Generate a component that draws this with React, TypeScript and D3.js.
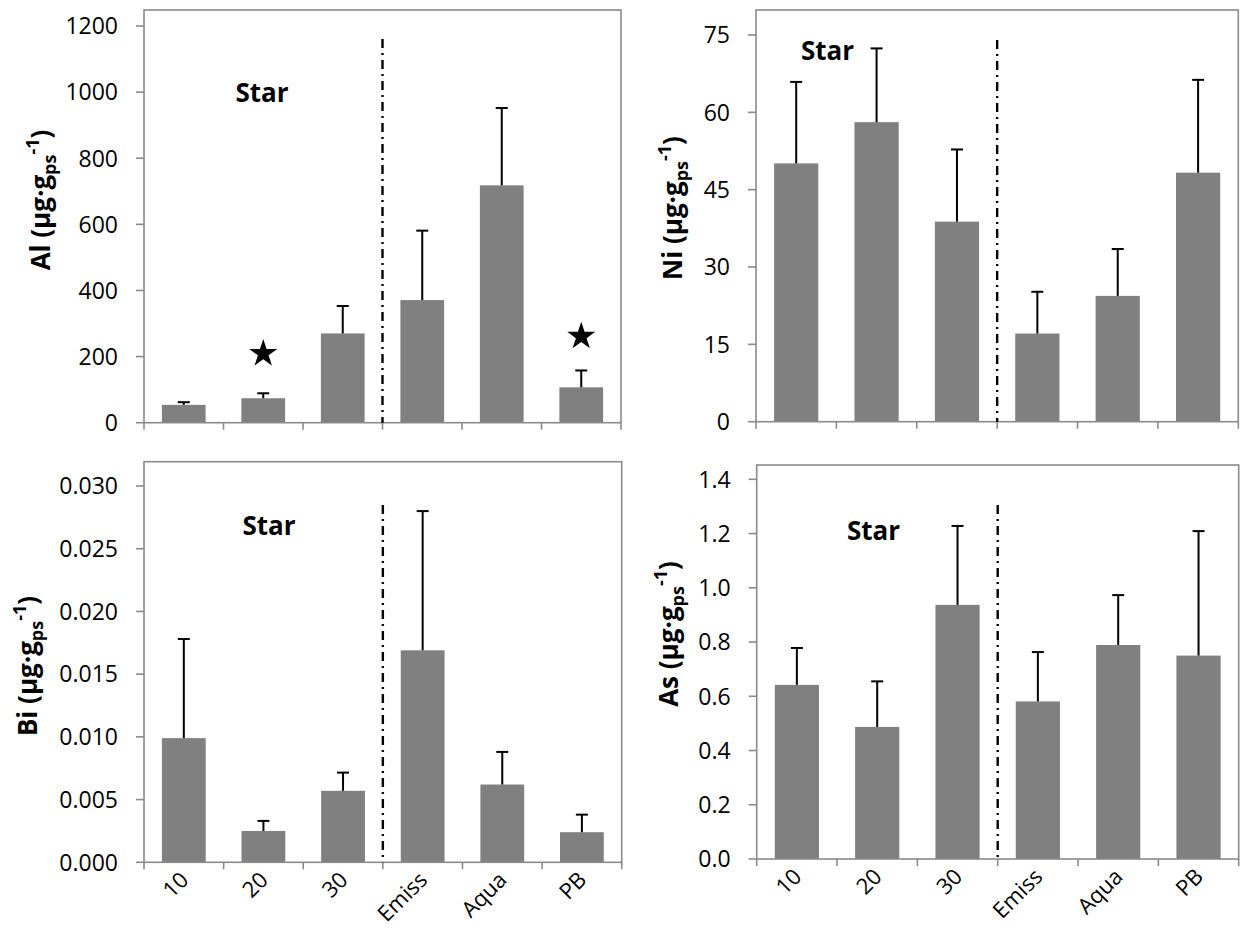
import React from 'react';
import * as d3 from 'd3';

// ---------- data ----------
const categories = ['10', '20', '30', 'Emiss', 'Aqua', 'PB'];

const alMean = [54, 74, 270, 371, 718, 107];
const alErr = [8, 15, 83, 210, 234, 51];

const niMean = [50.1, 58.1, 38.8, 17.1, 24.4, 48.3];
const niErr = [15.8, 14.3, 14.0, 8.1, 9.1, 18.0];

const biMean = [0.0099, 0.0025, 0.0057, 0.0169, 0.0062, 0.0024];
const biErr = [0.0079, 0.0008, 0.00145, 0.0111, 0.0026, 0.0014];

const asMean = [0.642, 0.487, 0.937, 0.581, 0.789, 0.75];
const asErr = [0.136, 0.168, 0.291, 0.182, 0.184, 0.459];

const alTicks = [0, 200, 400, 600, 800, 1000, 1200];
const niTicks = [0, 15, 30, 45, 60, 75];
const biTicks = [0, 0.005, 0.01, 0.015, 0.02, 0.025, 0.03];
const asTicks = [0, 0.2, 0.4, 0.6, 0.8, 1.0, 1.2, 1.4];

const alStars = [
  { cat: '20', value: 209 },
  { cat: 'PB', value: 261 },
];

const groupLabel = 'Star';
const dividerAfter = '30';

// ---------- layout ----------
const FONT = '"Open Sans", "Noto Sans", sans-serif';
const BAR = '#808080';
const AXIS = '#8a8a8a';

type Panel = {
  element: string;
  means: number[];
  errs: number[];
  ticks: number[];
  fmt: (n: number) => string;
  box: { left: number; top: number; right: number; bottom: number };
  yTopPx: number;
  labelX: number;
  labelY: number;
  starLabel: { x: number; y: number };
  divTop: number;
  stars: { cat: string; value: number }[];
  showX: boolean;
};

const panels: Panel[] = [
  {
    element: 'Al', means: alMean, errs: alErr, ticks: alTicks, fmt: d3.format('d'),
    box: { left: 144, top: 10, right: 621, bottom: 422.7 }, yTopPx: 26,
    labelX: 50, labelY: 200, starLabel: { x: 262, y: 101.5 }, divTop: 39,
    stars: alStars, showX: false,
  },
  {
    element: 'Ni', means: niMean, errs: niErr, ticks: niTicks, fmt: d3.format('d'),
    box: { left: 756, top: 10, right: 1238.3, bottom: 421.7 }, yTopPx: 35,
    labelX: 682, labelY: 208, starLabel: { x: 827.5, y: 60 }, divTop: 40,
    stars: [], showX: false,
  },
  {
    element: 'Bi', means: biMean, errs: biErr, ticks: biTicks, fmt: d3.format('.3f'),
    box: { left: 144, top: 461.7, right: 621.7, bottom: 862.3 }, yTopPx: 486,
    labelX: 37, labelY: 666, starLabel: { x: 269, y: 535 }, divTop: 505,
    stars: [], showX: true,
  },
  {
    element: 'As', means: asMean, errs: asErr, ticks: asTicks, fmt: d3.format('.1f'),
    box: { left: 756.7, top: 465, right: 1238.7, bottom: 859 }, yTopPx: 479.3,
    labelX: 678, labelY: 634, starLabel: { x: 873.5, y: 540 }, divTop: 505,
    stars: [], showX: true,
  },
];

const starPath = d3.symbol(d3.symbolStar, 243)() as string;

function PanelView({ p }: { p: Panel }) {
  const { box } = p;
  const x = d3
    .scaleBand<string>()
    .domain(categories)
    .range([box.left, box.right])
    .paddingInner(0.45)
    .paddingOuter(0.225);
  const y = d3
    .scaleLinear()
    .domain([0, p.ticks[p.ticks.length - 1]])
    .range([box.bottom, p.yTopPx]);
  const step = x.step();
  const edges = d3.range(categories.length + 1).map((i) => box.left + i * step);
  const divX = (x(dividerAfter) as number) - (step - x.bandwidth()) / 2 + step;
  const capHalf = 6;

  return (
    <g>
      {/* bars */}
      {categories.map((c, i) => (
        <rect
          key={'b' + c}
          x={x(c)}
          y={y(p.means[i])}
          width={x.bandwidth()}
          height={box.bottom - y(p.means[i])}
          fill={BAR}
        />
      ))}
      {/* error bars */}
      {categories.map((c, i) => {
        const cx = (x(c) as number) + x.bandwidth() / 2;
        const yTop = y(p.means[i] + p.errs[i]);
        return (
          <g key={'e' + c} stroke="#000" strokeWidth={2}>
            <line x1={cx} x2={cx} y1={y(p.means[i])} y2={yTop} />
            <line x1={cx - capHalf} x2={cx + capHalf} y1={yTop} y2={yTop} />
          </g>
        );
      })}
      {/* frame */}
      <rect
        x={box.left}
        y={box.top}
        width={box.right - box.left}
        height={box.bottom - box.top}
        fill="none"
        stroke={AXIS}
        strokeWidth={1.6}
      />
      {/* y ticks */}
      {p.ticks.map((t) => (
        <g key={'yt' + t}>
          <line x1={box.left - 8} x2={box.left} y1={y(t)} y2={y(t)} stroke={AXIS} strokeWidth={1.6} />
          <text
            x={box.left - 26}
            y={y(t)}
            dy="0.36em"
            textAnchor="end"
            fontFamily={FONT}
            fontSize={23}
            fill="#000"
          >
            {p.fmt(t)}
          </text>
        </g>
      ))}
      {/* x ticks */}
      {edges.map((e, i) => (
        <line key={'xt' + i} x1={e} x2={e} y1={box.bottom} y2={box.bottom + 7} stroke={AXIS} strokeWidth={1.6} />
      ))}
      {/* x labels */}
      {p.showX &&
        categories.map((c) => {
          const cx = (x(c) as number) + x.bandwidth() / 2 + 6;
          const cy = box.bottom + 19;
          return (
            <text
              key={'xl' + c}
              x={cx}
              y={cy}
              transform={`rotate(-45 ${cx} ${cy})`}
              textAnchor="end"
              fontFamily={FONT}
              fontSize={22}
              fill="#000"
            >
              {c}
            </text>
          );
        })}
      {/* divider */}
      <line
        x1={divX}
        x2={divX}
        y1={p.divTop}
        y2={box.bottom}
        stroke="#000"
        strokeWidth={2.4}
        strokeDasharray="9,5,2,5"
      />
      {/* group label */}
      <text
        x={p.starLabel.x}
        y={p.starLabel.y}
        textAnchor="middle"
        fontFamily={FONT}
        fontWeight="bold"
        fontSize={26}
        fill="#000"
      >
        {groupLabel}
      </text>
      {/* significance stars */}
      {p.stars.map((s) => (
        <path
          key={'s' + s.cat}
          d={starPath}
          transform={`translate(${(x(s.cat) as number) + x.bandwidth() / 2},${y(s.value)})`}
          fill="#000"
        />
      ))}
      {/* y axis title */}
      <text
        transform={`translate(${p.labelX},${p.labelY}) rotate(-90)`}
        textAnchor="middle"
        fontFamily={FONT}
        fontWeight="bold"
        fontSize={26}
        fill="#000"
      >
        {p.element} (µg·g
        <tspan fontSize={18} dy={6}>ps</tspan>
        <tspan fontSize={18} dy={-17}>-1</tspan>
        <tspan dy={11}>)</tspan>
      </text>
    </g>
  );
}

export default function App() {
  return (
    <svg
      width={1240}
      height={929}
      style={{ position: 'absolute', left: 0, top: 0, background: '#fff' }}
    >
      <rect x={0} y={0} width={1240} height={929} fill="#fff" />
      {panels.map((p) => (
        <PanelView key={p.element} p={p} />
      ))}
    </svg>
  );
}
